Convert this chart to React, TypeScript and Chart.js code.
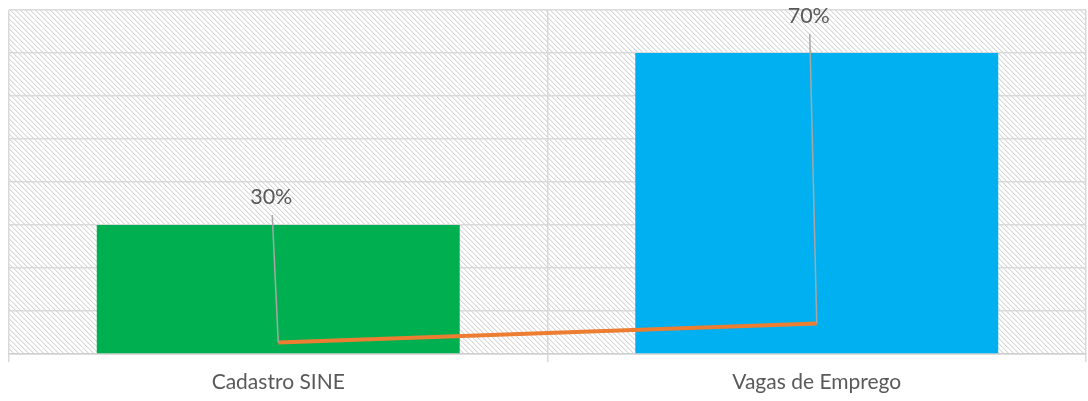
import React, { useEffect, useRef } from "react";
import { Chart, registerables } from "chart.js";

Chart.register(...registerables);

const categories = ["Cadastro SINE", "Vagas de Emprego"];
const barValues = [30, 70];
const lineValues = [2.7, 7.1];
const labelTexts = ["30%", "70%"];
const barColors = ["#00B050", "#00B0F0"];
const yMin = 0;
const yMax = 80;
const yStep = 10;

function makeHatch(ctx: CanvasRenderingContext2D): CanvasPattern | string {
  const size = 5;
  const c = document.createElement("canvas");
  c.width = size;
  c.height = size;
  const g = c.getContext("2d")!;
  g.fillStyle = "#ffffff";
  g.fillRect(0, 0, size, size);
  for (let i = 0; i < size; i++) {
    g.fillStyle = "#d8d8d8";
    g.fillRect(i, i, 1, 1);
    g.fillStyle = "#eeeeee";
    g.fillRect((i + 1) % size, i, 1, 1);
  }
  return ctx.createPattern(c, "repeat") || "#eeeeee";
}

const hatchPlugin = {
  id: "hatchBg",
  beforeDraw(chart: any) {
    const { ctx, chartArea } = chart;
    ctx.save();
    ctx.fillStyle = makeHatch(ctx);
    ctx.fillRect(chartArea.left, chartArea.top, chartArea.right - chartArea.left, chartArea.bottom - chartArea.top);
    ctx.restore();
  },
};

const LABEL_DY = [-28, -37];
const LABEL_DX = [-7, -8];

const labelPlugin = {
  id: "leaderLabels",
  afterDatasetsDraw(chart: any) {
    const { ctx } = chart;
    const yScale = chart.scales.y;
    const meta = chart.getDatasetMeta(1);
    ctx.save();
    meta.data.forEach((pt: any, i: number) => {
      const lx = pt.x + LABEL_DX[i];
      const ly = yScale.getPixelForValue(barValues[i]) + LABEL_DY[i];
      ctx.strokeStyle = "#a6a6a6";
      ctx.lineWidth = 1.5;
      ctx.beginPath();
      ctx.moveTo(lx + 1, ly + 18);
      ctx.lineTo(pt.x, pt.y);
      ctx.stroke();
      ctx.fillStyle = "#595959";
      ctx.font = "21.5px Lato";
      ctx.textAlign = "center";
      ctx.textBaseline = "middle";
      ctx.fillText(labelTexts[i], lx, ly);
    });
    ctx.restore();
  },
};

export default function App() {
  const ref = useRef<HTMLCanvasElement>(null);
  useEffect(() => {
    if (!ref.current) return;
    const chart = new Chart(ref.current, {
      type: "bar",
      data: {
        labels: categories,
        datasets: [
          {
            type: "bar",
            data: barValues,
            backgroundColor: barColors,
            borderWidth: 0,
            barPercentage: 0.674,
            categoryPercentage: 1,
            order: 2,
          },
          {
            type: "line",
            data: lineValues,
            borderColor: "#ED7D31",
            borderWidth: 4,
            pointRadius: 0,
            fill: false,
            tension: 0,
            order: 1,
          } as any,
        ],
      },
      options: {
        animation: false,
        responsive: true,
        maintainAspectRatio: false,
        layout: { padding: { left: 9, right: 2, top: 10, bottom: 0 } },
        plugins: { legend: { display: false }, tooltip: { enabled: false } },
        scales: {
          x: {
            grid: { color: "#d9d9d9", lineWidth: 1.5, tickLength: 8, offset: true },
            border: { color: "#d0d0d0", width: 1.5 },
            ticks: { color: "#595959", font: { family: "Lato", size: 21 }, padding: 8 },
            afterFit: (s: any) => {
              s.height = 47;
            },
          },
          y: {
            min: yMin,
            max: yMax,
            ticks: { stepSize: yStep, display: false },
            grid: { color: "#d9d9d9", lineWidth: 1.5, drawTicks: false },
            border: { display: false },
            afterFit: (s: any) => {
              s.width = 0;
            },
          },
        },
      },
      plugins: [hatchPlugin, labelPlugin],
    });
    return () => chart.destroy();
  }, []);
  return (
    <div style={{ position: "absolute", left: 0, top: 0, width: 1088, height: 401, background: "#fff" }}>
      <canvas ref={ref} />
    </div>
  );
}
